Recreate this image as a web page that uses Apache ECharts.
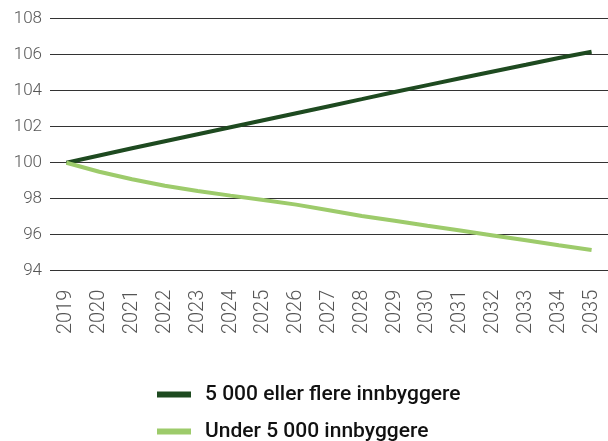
<!DOCTYPE html>
<html>
<head>
<meta charset="utf-8">
<script src="https://cdn.jsdelivr.net/npm/echarts@6/dist/echarts.min.js"></script>
<style>
  html, body { margin: 0; padding: 0; background: #fff; }
  #chart { width: 608px; height: 441px; }
</style>
</head>
<body>
<div id="chart"></div>
<script>
// år og indeksverdier (2019 = 100)
var years = ['2019', '2020', '2021', '2022', '2023', '2024', '2025', '2026', '2027',
             '2028', '2029', '2030', '2031', '2032', '2033', '2034', '2035'];
var overFive = [100, 100.40, 100.80, 101.19, 101.58, 101.97, 102.36, 102.75, 103.14,
                103.53, 103.93, 104.31, 104.69, 105.07, 105.44, 105.82, 106.16];
var underFive = [100, 99.50, 99.08, 98.72, 98.43, 98.17, 97.93, 97.67, 97.36,
                 97.04, 96.78, 96.50, 96.23, 95.96, 95.69, 95.41, 95.15];
var seriesNames = ['5 000 eller flere innbyggere', 'Under 5 000 innbyggere'];

var myChart = echarts.init(document.getElementById('chart'));

// en legend per serie, stablet under hverandre
function legendFor(name, top) {
    return {
        left: 157,
        top: top,
        padding: 0,
        icon: 'rect',
        itemWidth: 34,
        itemHeight: 6,
        textStyle: {
            fontFamily: 'Roboto',
            fontWeight: 500,
            fontSize: 21,
            color: '#111',
            padding: [0, 0, 0, 9]
        },
        data: [name]
    };
}

var option = {
    animation: false,
    color: ['#1e4a20', '#9dcb6b'],
    grid: {
        left: 50,
        right: -6,
        top: 18.7,
        bottom: 170.3
    },
    legend: [legendFor(seriesNames[0], 384), legendFor(seriesNames[1], 421)],
    xAxis: {
        type: 'category',
        data: years,
        boundaryGap: true,
        axisLine: { show: false },
        axisTick: { show: false },
        axisLabel: {
            rotate: 90,
            margin: 19,
            fontFamily: 'Roboto',
            fontWeight: 300,
            fontSize: 20,
            color: '#555'
        }
    },
    yAxis: {
        type: 'value',
        min: 94,
        max: 108,
        interval: 2,
        axisLine: { show: false },
        axisTick: { show: false },
        axisLabel: {
            margin: 8,
            fontFamily: 'Roboto',
            fontWeight: 300,
            fontSize: 17,
            color: '#555'
        },
        splitLine: {
            lineStyle: { color: '#333', width: 1 }
        }
    },
    series: [{
        name: seriesNames[0],
        type: 'line',
        showSymbol: false,
        lineStyle: { width: 4 },
        data: overFive
    }, {
        name: seriesNames[1],
        type: 'line',
        showSymbol: false,
        lineStyle: { width: 4 },
        data: underFive
    }]
};

myChart.setOption(option);
</script>
</body>
</html>
